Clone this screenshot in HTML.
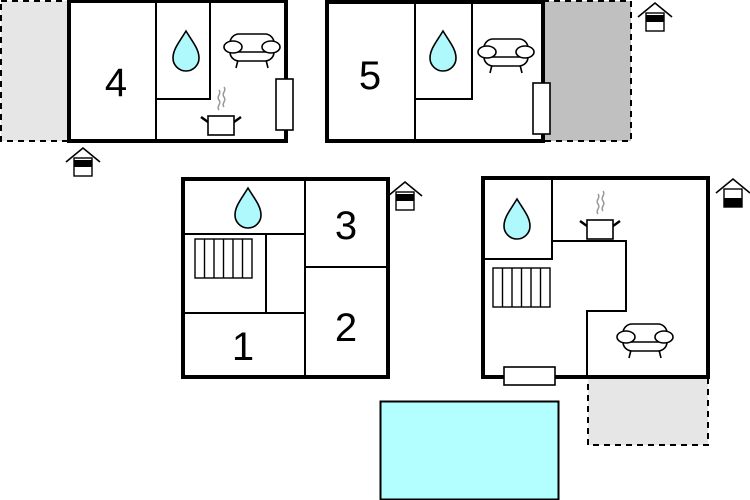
<!DOCTYPE html>
<html><head><meta charset="utf-8"><style>html,body{margin:0;padding:0;background:#fff}svg{display:block}text{font-family:"Liberation Sans",sans-serif;fill:#000}</style></head><body>
<svg width="750" height="500" viewBox="0 0 750 500" xmlns="http://www.w3.org/2000/svg">
<defs>
<g id="drop"><path d="M0,-20 C6,-10 13,-2 13,7 A13,13 0 0 1 -13,7 C-13,-2 -6,-10 0,-20 Z" fill="#aff8fc" stroke="#000" stroke-width="1.6"/></g>
<g id="sofa" fill="#fff" stroke="#000" stroke-width="1.6">
<path d="M-14,10 L-16,18 M14,10 L16,18" fill="none"/>
<rect x="-22" y="-16" width="44" height="27" rx="9"/>
<line x1="-16" y1="2" x2="16" y2="2"/>
<ellipse cx="-19" cy="-3" rx="9" ry="6"/><ellipse cx="19" cy="-3" rx="9" ry="6"/>
</g>
<g id="pot"><path d="M-20,-8 L-13,-3 M20,-8 L13,-3" stroke="#000" stroke-width="2.5"/><rect x="-13" y="-9" width="26" height="19" fill="#fff" stroke="#000" stroke-width="1.6"/>
<path d="M-2,-15 c-3,-4 3,-6 0,-10 c-3,-4 3,-6 0,-10 M3,-18 c-3,-4 3,-6 0,-10 c-3,-4 3,-6 0,-10" fill="none" stroke="#999" stroke-width="1.5"/></g>
<g id="house"><path d="M-17,0 L0,-14 L17,0" fill="none" stroke="#000" stroke-width="1.6"/><rect x="-9" y="-4" width="18" height="18" fill="#fff" stroke="#000" stroke-width="1.4"/></g>
<g id="rad" fill="#fff" stroke="#000" stroke-width="1.4"><rect x="0" y="0" width="57" height="39"/><path d="M9.5,0v39M19,0v39M28.5,0v39M38,0v39M47.5,0v39"/></g>
</defs>

<rect x="1" y="1" width="68" height="140" fill="#e6e6e6" stroke="#000" stroke-width="2" stroke-dasharray="6,5"/>
<rect x="69" y="1" width="217" height="140" fill="#fff" stroke="#000" stroke-width="4"/>
<path d="M156,1V141M156,99H210V1" fill="none" stroke="#000" stroke-width="2"/>
<rect x="276" y="79" width="17" height="51" fill="#fff" stroke="#000" stroke-width="1.6"/>
<use href="#drop" x="186" y="51"/>
<use href="#sofa" x="252" y="50"/>
<use href="#pot" x="221" y="125"/>
<text x="116" y="96" font-size="40" text-anchor="middle">4</text>
<g transform="translate(83,162)"><use href="#house"/><rect x="-9" y="-2" width="18" height="7" fill="#000"/></g>

<rect x="543" y="1" width="88" height="140" fill="#c0c0c0" stroke="#000" stroke-width="2" stroke-dasharray="6,5"/>
<rect x="327" y="2" width="216" height="139" fill="#fff" stroke="#000" stroke-width="4"/>
<path d="M415,2V141M415,99H472V2" fill="none" stroke="#000" stroke-width="2"/>
<rect x="533" y="83" width="17" height="51" fill="#fff" stroke="#000" stroke-width="1.6"/>
<use href="#drop" x="443" y="51"/>
<use href="#sofa" x="506" y="55"/>
<text x="370" y="89" font-size="40" text-anchor="middle">5</text>
<g transform="translate(655,17)"><use href="#house"/><rect x="-9" y="-2" width="18" height="7" fill="#000"/></g>

<rect x="183" y="179" width="205" height="198" fill="#fff" stroke="#000" stroke-width="4"/>
<path d="M305,179V377M183,234H305M305,267H388M266,234V313M183,313H305" fill="none" stroke="#000" stroke-width="2"/>
<use href="#rad" x="195" y="239"/>
<use href="#drop" x="248" y="208"/>
<text x="346" y="239" font-size="40" text-anchor="middle">3</text>
<text x="346" y="341" font-size="40" text-anchor="middle">2</text>
<text x="243" y="360" font-size="40" text-anchor="middle">1</text>
<g transform="translate(405,196)"><use href="#house"/><rect x="-9" y="-2" width="18" height="7" fill="#000"/></g>

<rect x="588" y="377" width="120" height="68" fill="#e6e6e6" stroke="#000" stroke-width="2" stroke-dasharray="6,5"/>
<rect x="483" y="178" width="225" height="199" fill="#fff" stroke="#000" stroke-width="4"/>
<path d="M483,259H552V178M552,241H626V311H587V377" fill="none" stroke="#000" stroke-width="2"/>
<rect x="504" y="367" width="51" height="18" fill="#fff" stroke="#000" stroke-width="1.6"/>
<use href="#rad" x="493" y="268"/>
<use href="#drop" x="517" y="219"/>
<use href="#pot" x="600" y="229"/>
<use href="#sofa" x="645" y="340"/>
<g transform="translate(733,193)"><use href="#house"/><rect x="-9" y="5" width="18" height="9" fill="#000"/></g>

<rect x="380.5" y="401.5" width="178" height="98" fill="#b3feff" stroke="#000" stroke-width="2"/>
</svg>
</body></html>
